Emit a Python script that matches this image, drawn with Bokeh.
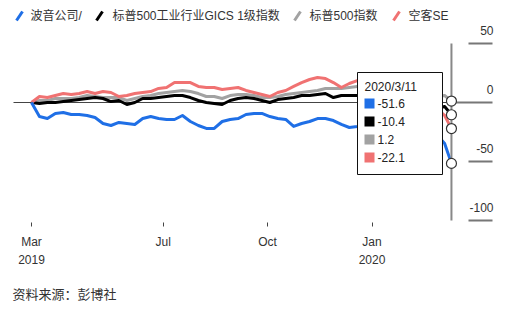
import pandas as pd
from bokeh.plotting import figure
from bokeh.models import Range1d, FixedTicker, LinearAxis, Title
from bokeh.core.properties import value
from bokeh.embed import file_html
from bokeh.resources import INLINE

# ---------------- data (percent change since 2019-03-07) ----------------
boeing = [0, -11.9, -13.6, -9.3, -8.5, -10.2, -10.2, -11.0, -12.7, -17.8, -19.5, -16.9, -17.8, -18.6,
          -13.6, -11.9, -13.6, -14.4, -14.4, -11.0, -16.1, -19.5, -22.0, -22.0, -16.1, -14.4, -13.6,
          -10.2, -9.3, -9.3, -11.9, -13.6, -14.4, -20.3, -17.8, -16.1, -13.6, -13.6, -15.3, -18.6,
          -21.2, -20.3, -18.6, -16.9, -19.5, -21.2, -20.3, -18.6, -17.8, -18.6, -20.3, -27.1, -34.7, -51.6]
industrials = [0, -0.8, 0, 0, 0.8, 1.7, 2.5, 3.4, 4.2, 3.4, 0.8, 1.7, -1.7, 0, 3.4, 3.4, 4.2, 5.1,
               5.9, 5.9, 4.2, 1.7, 0, -0.8, -1.7, 1.7, 3.4, 4.2, 3.4, 1.7, 0, 2.5, 3.4, 4.2, 5.9, 5.9,
               6.8, 7.6, 4.2, 5.9, 5.9, 5.9, 6.8, 6.8, 5.1, 4.2, 5.1, 5.1, 5.9, 4.2, -0.8, -5.1, -3.4, -10.4]
sp500 = [0, 1.7, 1.7, 3.4, 3.4, 3.4, 4.2, 5.9, 5.1, 4.2, 4.2, 4.2, 1.7, 3.4, 5.1, 5.9, 7.6, 8.5, 9.3,
         10.2, 9.3, 7.6, 5.1, 5.1, 3.4, 5.9, 6.8, 6.8, 5.9, 4.2, 4.2, 5.1, 6.8, 7.6, 8.5, 9.3, 10.2,
         11.9, 11.9, 11.9, 12.7, 13.6, 13.6, 15.3, 14.4, 15.3, 14.4, 16.1, 16.9, 16.1, 10.2, 5.1, 5.9, 1.2]
airbus = [0, 5.1, 4.2, 5.9, 7.6, 6.8, 7.6, 9.3, 7.6, 9.3, 8.5, 5.1, 5.9, 7.6, 8.5, 9.3, 11.9, 12.7,
          16.9, 16.9, 16.9, 13.6, 12.7, 12.7, 11.0, 11.9, 12.7, 10.2, 8.5, 6.8, 5.1, 8.5, 10.2, 13.6,
          16.9, 19.5, 21.2, 20.3, 16.9, 12.7, 16.1, 18.6, 16.9, 18.6, 15.3, 13.6, 14.4, 11.9, 10.2,
          5.9, 1.7, -5.1, -11.0, -22.1]
dates = list(pd.date_range("2019-03-07", "2020-03-05", freq="7D")) + [pd.Timestamp("2020-03-11")]

series_names = ["波音公司/", "标普500工业行业GICS 1级指数", "标普500指数", "空客SE"]
series_colors = ["#1f6fe6", "#000000", "#a2a2a2", "#f07272"]
month_tick_dates = ["2019-03-07", "2019-07-01", "2019-10-01", "2020-01-01"]
month_tick_labels = ["Mar", "Jul", "Oct", "Jan"]
year_tick_dates = ["2019-03-07", "2020-01-01"]
year_tick_labels = ["2019", "2020"]
y_ticks = [50, 0, -50, -100]
baseline = 0
tooltip_title = "2020/3/11"
source_text = "资料来源：彭博社"

FONT = "Liberation Sans, Noto Sans CJK SC"


def ms(d):
    return pd.Timestamp(d).value / 1e6


xs = [ms(d) for d in dates]
all_series = [boeing, industrials, sp500, airbus]

# ---------------- scales ----------------
W, FH = 512, 222
px_per_day = 1.135
ms_per_px = 86400000 / px_per_day
x_start = xs[0] - 31 * ms_per_px
x_end = x_start + W * ms_per_px
zero_py = 102
px_per_unit = 1.18
y_top = zero_py / px_per_unit
y_bot = -(FH - zero_py) / px_per_unit

p = figure(frame_width=W, frame_height=FH, x_range=Range1d(x_start, x_end),
           y_range=Range1d(y_bot, y_top), output_backend="svg", toolbar_location=None,
           y_axis_location=None, min_border=0, min_border_bottom=0)
p.extra_x_ranges = {"px": Range1d(0, W)}
p.extra_y_ranges = {"py": Range1d(FH, 0)}
p.outline_line_color = None
p.grid.visible = False
p.background_fill_color = "white"
p.border_fill_color = "white"

# month axis
ax = p.xaxis[0]
ax.ticker = FixedTicker(ticks=[ms(d) for d in month_tick_dates])
ax.major_label_overrides = {ms(d): l for d, l in zip(month_tick_dates, month_tick_labels)}
ax.axis_line_color = None
ax.major_tick_out = 4
ax.major_tick_in = 0
ax.major_tick_line_color = "#444444"
ax.major_tick_line_width = 1
ax.minor_tick_line_color = None
ax.major_label_standoff = 8
ax.major_label_text_font = FONT
ax.major_label_text_font_size = "12px"
ax.major_label_text_color = "#333333"

# year axis
ax2 = LinearAxis(ticker=FixedTicker(ticks=[ms(d) for d in year_tick_dates]),
                 major_label_overrides={ms(d): l for d, l in zip(year_tick_dates, year_tick_labels)},
                 axis_line_color=None, major_tick_line_color=None, minor_tick_line_color=None,
                 major_tick_out=0, major_tick_in=0, minor_tick_out=0, minor_tick_in=0,
                 major_label_standoff=3, major_label_text_font=FONT,
                 major_label_text_font_size="12px", major_label_text_color="#333333")
p.add_layout(ax2, "below")

p.add_layout(Title(text=source_text, align="left", offset=12, text_font=FONT,
                   text_font_size="13px", text_font_style="normal", text_color="#333333",
                   standoff=36, vertical_align="bottom"), "below")

# baseline
p.segment(x0=[13], x1=[450], y0=[baseline], y1=[baseline], x_range_name="px",
          line_color="#444444", line_width=1)

# series lines
for idx in [2, 1, 3, 0]:
    p.line(xs, all_series[idx], line_color=series_colors[idx], line_width=3, line_join="round")

# vertical marker line at last date
p.segment(x0=[xs[-1]], x1=[xs[-1]], y0=[y_ticks[0]], y1=[y_ticks[-1]],
          line_color="#888888", line_width=2)
# right-hand ticks
p.segment(x0=[468 if t != baseline else 450 for t in y_ticks], x1=[492] * len(y_ticks),
          y0=y_ticks, y1=y_ticks, x_range_name="px", line_color="#777777", line_width=2)
p.text(x=[493] * len(y_ticks), y=y_ticks, text=[str(t) for t in y_ticks], x_range_name="px",
       text_align="right", text_baseline="bottom", y_offset=-9, text_font=value(FONT),
       text_font_size="12px", text_color="#333333")

# end markers
last_vals = [s[-1] for s in all_series]
p.scatter([xs[-1]] * 4, last_vals, size=10, fill_color="white", line_color="#333333", line_width=1.2)

# tooltip box
p.quad(left=[357], right=[442], top=[72], bottom=[174], x_range_name="px", y_range_name="py",
       fill_color="white", line_color="#111111", line_width=1)
p.text(x=[364], y=[86], text=[tooltip_title], x_range_name="px", y_range_name="py",
       text_baseline="middle", text_font=value(FONT), text_font_size="12px", text_color="#222222")
row_y = [103, 121, 139, 157]
p.quad(left=[364] * 4, right=[374] * 4, top=[y - 5 for y in row_y], bottom=[y + 5 for y in row_y],
       x_range_name="px", y_range_name="py", fill_color=series_colors, line_color=None)
p.text(x=[377] * 4, y=row_y, text=[f"{v:.1f}" for v in last_vals], x_range_name="px",
       y_range_name="py", text_baseline="middle", text_font=value(FONT), text_font_size="12px",
       text_color="#222222")

# legend
leg_icon_x = [16, 96, 294, 393]
leg_text_x = [30, 112, 309, 408]
p.segment(x0=leg_icon_x, x1=[x + 6 for x in leg_icon_x], y0=[20] * 4, y1=[11] * 4,
          x_range_name="px", y_range_name="py", line_color=series_colors, line_width=3)
p.text(x=leg_text_x, y=[15] * 4, text=series_names, x_range_name="px", y_range_name="py",
       text_baseline="middle", text_font=value(FONT), text_font_size="12px", text_color="#333333")

open("out.html", "w").write(file_html(p, INLINE))
